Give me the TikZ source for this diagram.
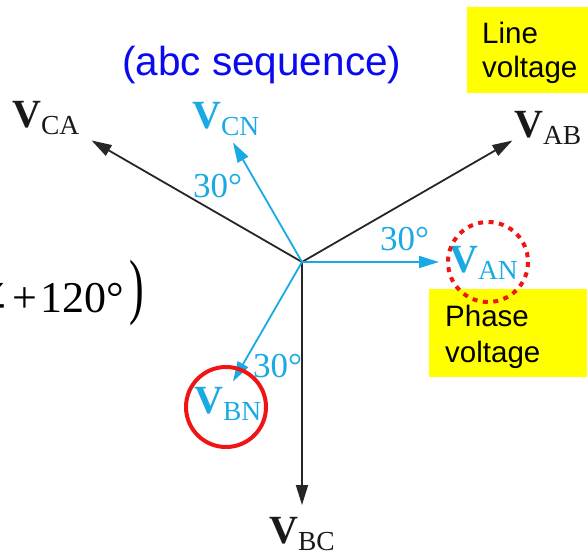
\documentclass[tikz,border=0pt]{standalone}
\usepackage{fontspec}
\setmainfont{Liberation Serif}
\newfontfamily\arialfont{Liberation Sans}
\newfontfamily\angfont{DejaVu Serif}
\usetikzlibrary{arrows.meta}
\definecolor{phblue}{RGB}{25,170,228}
\definecolor{ttlblue}{RGB}{10,10,240}
\definecolor{hlred}{RGB}{240,20,20}
\definecolor{hlyellow}{RGB}{255,255,0}
\newcommand\phasorlbl[1]{{\fontsize{40}{40}\selectfont\bfseries V}\raisebox{-7pt}[\height][0pt]{\fontsize{27.5}{27.5}\selectfont #1}}
\begin{document}
\begin{tikzpicture}[x=1pt,y=-1pt,
  linearr/.style={draw=black!85, line width=1.8pt, -{Triangle[length=20pt,width=12pt]}},
  phasearr/.style={draw=phblue, line width=1.8pt, -{Triangle[length=20pt,width=12pt]}},
  linelbl/.style={anchor=base west, inner sep=0pt, text=black!90},
  phaselbl/.style={anchor=base west, inner sep=0pt, text=phblue},
  anglbl/.style={anchor=base west, inner sep=0pt, text=phblue, font=\fontsize{35}{35}\selectfont},
  notebox/.style={fill=hlyellow, draw=none},
  notetext/.style={anchor=base west, inner sep=0pt, font=\arialfont\fontsize{29.5}{29.5}\selectfont, text=black},
  redring/.style={draw=hlred, line width=4pt}
]
\useasboundingbox (0,0) rectangle (588,554);
% yellow boxes
\path[notebox] (467,7) rectangle (588,93);
\path[notebox] (429,289) rectangle (587,377);
\node[notetext] (lineA) at (482,43) {Line};
\node[notetext] (lineB) at (482,77) {voltage};
\node[notetext] (phA) at (445,326) {Phase};
\node[notetext] (phB) at (445,362) {voltage};
% title
\node[anchor=base west, inner sep=0pt, text=ttlblue, font=\arialfont\fontsize{40.5}{40.5}\selectfont] (title) at (122,75) {(abc sequence)};
% formula fragment
\node[anchor=base east, inner sep=0pt, font=\angfont\fontsize{44}{44}\selectfont] (ang) at (11,312) {∠};
\node[anchor=base west, inner sep=0pt, font=\fontsize{44}{44}\selectfont] (frm) at (12,312) {+\kern4pt120°};
\node[inner sep=0pt] (paren) at (137,293) {\scalebox{1}[1.65]{\fontsize{44}{44}\selectfont)}};
% phasors
\coordinate (O) at (302,262);
\coordinate (tAN) at (439,262);
\coordinate (tAB) at (512.4,140.5);
\coordinate (tCA) at (91.6,140.5);
\coordinate (tBC) at (302,505);
\coordinate (tCN) at (233,142.5);
\coordinate (tBN) at (233,381.5);
\draw[linearr] (O) -- (tAB);
\draw[linearr] (O) -- (tCA);
\draw[linearr] (O) -- (tBC);
\draw[phasearr] (O) -- (tAN);
\draw[phasearr] (O) -- (tCN);
\draw[phasearr] (O) -- (tBN);
% labels
\node[linelbl] (VCA) at (12,127) {\phasorlbl{CA}};
\node[linelbl] (VAB) at (514,137) {\phasorlbl{AB}};
\node[linelbl] (VBC) at (269,543) {\phasorlbl{BC}};
\node[phaselbl] (VCN) at (192,128) {\phasorlbl{CN}};
\node[phaselbl] (VAN) at (449,272) {\phasorlbl{AN}};
\node[phaselbl] (VBN) at (194,413) {\phasorlbl{BN}};
\node[anglbl] (a1) at (193,197) {30°};
\node[anglbl] (a2) at (380,250) {30°};
\node[anglbl] (a3) at (253,377) {30°};
% highlight circles
\draw[redring, dash pattern=on 5pt off 5.5pt] (488,262) circle[radius=40];
\draw[redring] (226,407) circle[radius=40];
\end{tikzpicture}
\end{document}
